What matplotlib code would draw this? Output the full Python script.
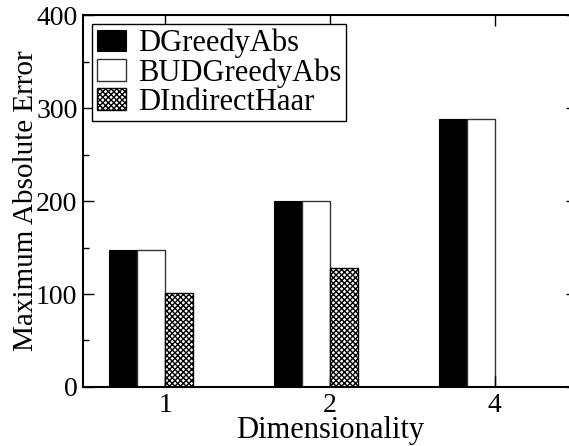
import numpy as np
import matplotlib
matplotlib.use("Agg")
import matplotlib.pyplot as plt
from matplotlib.ticker import MultipleLocator

plt.rcParams['font.family'] = ['Liberation Serif', 'DejaVu Serif']
plt.rcParams['hatch.linewidth'] = 1.0

# data
dims = ['1', '2', '4']
dgreedy = [147, 200, 288]
budgreedy = [147, 200, 288]
dindirect = [101, 128, np.nan]

fig = plt.figure(figsize=(5.69, 4.46), dpi=100)
ax = fig.add_axes([0.1459, 0.1323, 0.868, 0.834])

x = np.arange(1, len(dims) + 1)
w = 0.17
ax.bar(x - 1.5 * w, dgreedy, w, color='black', edgecolor='black', linewidth=0.8,
       label='DGreedyAbs')
ax.bar(x - 0.5 * w, budgreedy, w, color='white', edgecolor='#333333', linewidth=1.0,
       label='BUDGreedyAbs')
ax.bar(x + 0.5 * w, dindirect, w, color='white', edgecolor='black', linewidth=1.0,
       hatch='xxxxxx', label='DIndirectHaar')

ax.set_xlim(0.5, 3.5)
ax.set_ylim(0, 400)
ax.set_xticks(x)
ax.set_xticklabels(dims)
ax.yaxis.set_major_locator(MultipleLocator(100))
ax.yaxis.set_minor_locator(MultipleLocator(50))

ax.tick_params(axis='both', which='both', direction='in', top=True, right=True,
               labelsize=20, width=1.0)
ax.tick_params(axis='both', which='major', length=8, pad=4)
ax.tick_params(axis='y', which='minor', length=4)
ax.tick_params(axis='x', which='minor', bottom=False, top=False)
for s in ax.spines.values():
    s.set_linewidth(1.5)

ax.set_xlabel('Dimensionality', fontsize=22, labelpad=-1)
ax.set_ylabel('Maximum Absolute Error', fontsize=21, labelpad=-2)

leg = ax.legend(loc='upper left', fontsize=22, frameon=True, fancybox=False,
                edgecolor='black', framealpha=1, borderpad=0.15, labelspacing=0.0,
                handlelength=0.95, handleheight=0.7, handletextpad=0.4,
                borderaxespad=0.3)
leg.get_frame().set_linewidth(1.0)

fig.savefig('out.png', dpi=100)
